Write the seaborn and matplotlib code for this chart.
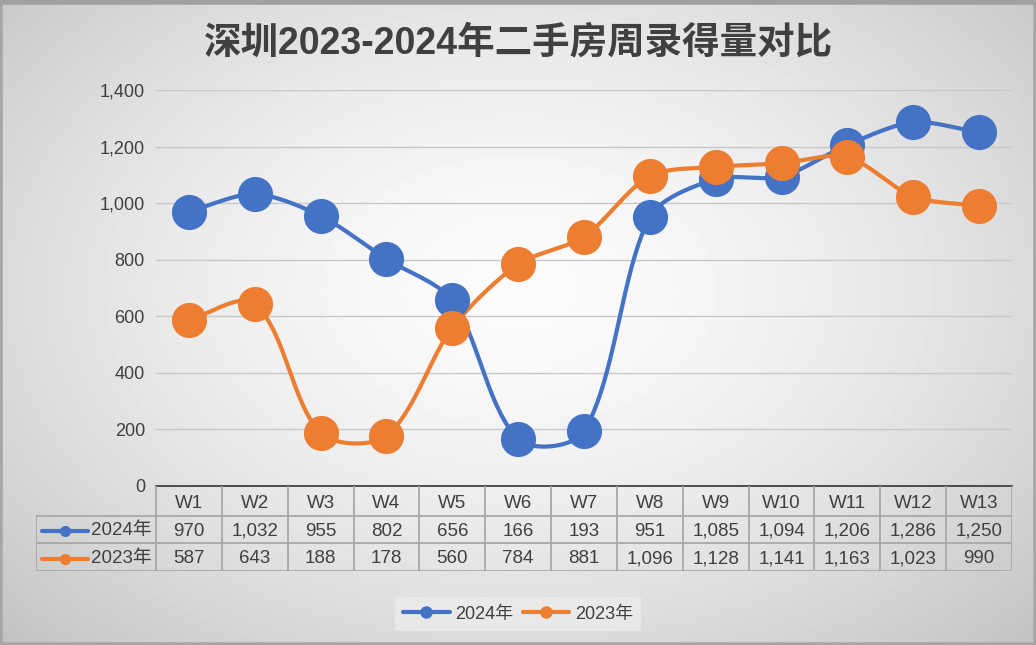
"""Shenzhen second-hand housing weekly volume, 2023 vs 2024 (Excel-style line chart with data table)."""
import numpy as np
import matplotlib
matplotlib.use("Agg")
import matplotlib.pyplot as plt
from matplotlib.lines import Line2D
import seaborn as sns

# data
weeks = ["W1", "W2", "W3", "W4", "W5", "W6", "W7", "W8", "W9", "W10", "W11", "W12", "W13"]
vals_2024 = [970, 1032, 955, 802, 656, 166, 193, 951, 1085, 1094, 1206, 1286, 1250]
vals_2023 = [587, 643, 188, 178, 560, 784, 881, 1096, 1128, 1141, 1163, 1023, 990]
series_names = ["2024年", "2023年"]
title = "深圳2023-2024年二手房周录得量对比"
yticks = [0, 200, 400, 600, 800, 1000, 1200, 1400]

BLUE = "#4472c4"
ORANGE = "#ed7d31"
TXT = "#404040"
GRID = "#c8c8c8"

sns.set_theme(style="white")
plt.rcParams["font.family"] = ["Liberation Sans", "Noto Sans CJK SC", "DejaVu Sans"]

W, H = 1036, 645
fig = plt.figure(figsize=(W / 100, H / 100), dpi=100)

# radial grey gradient background
bg = fig.add_axes([0, 0, 1, 1], zorder=-10)
yy, xx = np.mgrid[0:H, 0:W]
r = np.sqrt(((xx - W * 0.5) / (W * 0.5)) ** 2 + ((yy - H * 0.45) / (H * 0.55)) ** 2)
img = np.clip(0.985 - 0.13 * r ** 1.6, 0, 1)
bg.imshow(img, cmap="gray", vmin=0, vmax=1, aspect="auto", extent=[0, W, H, 0])
bg.add_patch(plt.Rectangle((0, 0), W, H, fill=False, ec="#a6a6a6", lw=4))
bg.plot([0, W], [2, 2], color="#a0a0a0", lw=4)
bg.set_xlim(0, W)
bg.set_ylim(H, 0)
bg.axis("off")


def px_rect(x0, y0, x1, y1):
    return [x0 / W, 1 - y1 / H, (x1 - x0) / W, (y1 - y0) / H]


L, R, T, B = 156, 1012, 90, 486
colw = (R - L) / len(weeks)
yscale = (B - T) / 1400


def smooth(y, k=0.28, n=40):
    """Bezier through points, tangents taken in screen space and scaled by chord length."""
    x = np.arange(len(y), dtype=float)
    p = np.column_stack([x * colw, np.asarray(y, float) * yscale])
    pts = np.vstack([p[0], p, p[-1]])
    out = []
    t = np.linspace(0, 1, n)[:, None]
    for i in range(1, len(pts) - 2):
        p0, p1, p2, p3 = pts[i - 1], pts[i], pts[i + 1], pts[i + 2]
        seg_len = np.linalg.norm(p2 - p1)
        t1 = p2 - p0
        t2 = p3 - p1
        t1 = t1 / (np.linalg.norm(t1) or 1)
        t2 = t2 / (np.linalg.norm(t2) or 1)
        c1 = p1 + t1 * seg_len * k
        c2 = p2 - t2 * seg_len * k
        seg = ((1 - t) ** 3) * p1 + 3 * ((1 - t) ** 2) * t * c1 + 3 * (1 - t) * t ** 2 * c2 + t ** 3 * p2
        out.append(seg)
    s = np.vstack(out)
    return s[:, 0] / colw, s[:, 1] / yscale


# main plot
ax = fig.add_axes(px_rect(L, T, R, B))
ax.patch.set_alpha(0)
xs = np.arange(len(weeks))
for vals, col in [(vals_2024, BLUE), (vals_2023, ORANGE)]:
    sx, sy = smooth(vals)
    ax.plot(sx, sy, color=col, lw=3, solid_capstyle="round", zorder=3, clip_on=False)
    sns.scatterplot(x=xs, y=vals, color=col, s=640, edgecolor=col, linewidth=0,
                    ax=ax, zorder=4, clip_on=False, legend=False)

ax.set_xlim(-0.5, len(weeks) - 0.5)
ax.set_ylim(0, 1400)
ax.set_yticks(yticks)
ax.set_yticklabels([f"{v:,}" for v in yticks], color=TXT, fontsize=13)
ax.tick_params(axis="y", length=0, pad=8)
ax.set_xticks([])
ax.grid(axis="y", color=GRID, lw=1)
for s in ["top", "right", "left"]:
    ax.spines[s].set_visible(False)
ax.spines["bottom"].set_color("#333333")
ax.spines["bottom"].set_linewidth(1.2)

# data table under the axis
tL = 36
tab = fig.add_axes(px_rect(tL, B, R, 571))
tab.axis("off")
x_left = -0.5 - (L - tL) / colw
tab.set_xlim(x_left, len(weeks) - 0.5)
row_edges = [0, (516 - B), (543 - B), (571 - B)]
tab.set_ylim(row_edges[-1], 0)
lc = "#a8a8a8"
for ye in row_edges[1:]:
    tab.plot([x_left, len(weeks) - 0.5], [ye] * 2, color=lc, lw=1.3)
for i in range(len(weeks) + 1):
    tab.plot([i - 0.5] * 2, [0, row_edges[3]], color=lc, lw=1.3)
tab.plot([x_left] * 2, [row_edges[1], row_edges[3]], color=lc, lw=1.3)
for i, w in enumerate(weeks):
    tab.text(i, (row_edges[0] + row_edges[1]) / 2 + 2, w, ha="center", va="center",
             color=TXT, fontsize=13.5)
for r_i, (vals, col, name) in enumerate([(vals_2024, BLUE, series_names[0]),
                                         (vals_2023, ORANGE, series_names[1])]):
    ymid = (row_edges[r_i + 1] + row_edges[r_i + 2]) / 2 + 1.5
    for i, v in enumerate(vals):
        tab.text(i, ymid, f"{v:,}", ha="center", va="center", color=TXT, fontsize=13.5)
    kx0 = x_left + 6 / colw
    kx1 = x_left + 52 / colw
    tab.plot([kx0, kx1], [ymid, ymid], color=col, lw=3, solid_capstyle="round")
    tab.plot([(kx0 + kx1) / 2], [ymid], "o", color=col, ms=7)
    tab.text(x_left + 55 / colw, ymid, name, ha="left", va="center", color=TXT, fontsize=13.5)

# title
fig.text(0.5, 1 - 43 / H, title, ha="center", va="center", fontsize=27, fontweight="bold",
         color=TXT)

# legend
handles = [Line2D([0], [0], color=c, lw=3, marker="o", ms=8) for c in (BLUE, ORANGE)]
leg = fig.legend(handles, series_names, loc="center", bbox_to_anchor=(0.5, 1 - 614 / H),
                 ncol=2, frameon=True, fontsize=13, handlelength=2.6, columnspacing=0.5,
                 handletextpad=0.3, borderpad=0.45, fancybox=False)
leg.get_frame().set_facecolor("#ececec")
leg.get_frame().set_edgecolor("none")
for t in leg.get_texts():
    t.set_color(TXT)

fig.savefig("out.png", dpi=100)
